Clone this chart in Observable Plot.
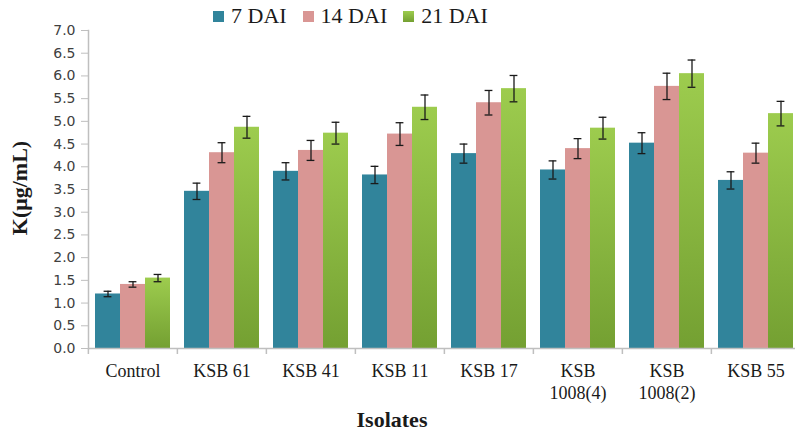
<!DOCTYPE html>
<html>
<head>
<meta charset="utf-8">
<script src="https://cdn.jsdelivr.net/npm/d3@7"></script>
<script src="https://cdn.jsdelivr.net/npm/@observablehq/plot@0.6"></script>
<style>
  body { margin: 0; background: #fff; }
  #wrap { position: relative; width: 795px; height: 432px; overflow: hidden; }
  #chart { position: absolute; left: 0; top: 0; }
  #legend { position: absolute; left: 213px; top: 3px; display: flex; align-items: center;
            font-family: "Liberation Serif", serif; font-size: 22px; color: #1a1a1a; white-space: nowrap; }
  #legend .item { display: flex; align-items: center; margin-right: 16px; }
  #legend .sw { width: 11px; height: 11px; margin-right: 7px; }
  .title { position: absolute; font-family: "Liberation Serif", serif; font-weight: bold; font-size: 22px; color: #1a1a1a; white-space: nowrap; }
  #ytitle { left: 20px; top: 188px; transform: translate(-50%, -50%) rotate(-90deg); }
  #xtitle { left: 392px; top: 420px; transform: translate(-50%, -50%); }
</style>
</head>
<body>
<svg width="0" height="0" style="position:absolute">
  <defs>
    <linearGradient id="g21" x1="0" y1="0" x2="0" y2="1">
      <stop offset="0" stop-color="#9DCC4E"/>
      <stop offset="1" stop-color="#74A032"/>
    </linearGradient>
  </defs>
</svg>
<div id="wrap">
  <div id="chart"></div>
  <div id="legend"></div>
  <div id="ytitle" class="title">K(μg/mL)</div>
  <div id="xtitle" class="title">Isolates</div>
</div>
<script>
const categories = ["Control", "KSB 61", "KSB 41", "KSB 11", "KSB 17", "KSB\n1008(4)", "KSB\n1008(2)", "KSB 55"];
const series = ["7 DAI", "14 DAI", "21 DAI"];
const dai7  = [1.20, 3.46, 3.90, 3.82, 4.29, 3.93, 4.52, 3.70];
const dai14 = [1.41, 4.31, 4.36, 4.72, 5.41, 4.40, 5.77, 4.30];
const dai21 = [1.55, 4.87, 4.74, 5.31, 5.72, 4.85, 6.05, 5.17];
const err7  = [0.06, 0.18, 0.19, 0.19, 0.21, 0.20, 0.23, 0.19];
const err14 = [0.06, 0.22, 0.22, 0.25, 0.27, 0.22, 0.29, 0.22];
const err21 = [0.08, 0.24, 0.24, 0.27, 0.29, 0.24, 0.30, 0.27];
const yTicks = [0, 0.5, 1, 1.5, 2, 2.5, 3, 3.5, 4, 4.5, 5, 5.5, 6, 6.5, 7];
const colors = ["#31849B", "#D99694", "url(#g21)"];
const legendColors = ["#31849B", "#D99694", "linear-gradient(#9DCC4E, #74A032)"];

const values = [dai7, dai14, dai21];
const errors = [err7, err14, err21];
const table = [];
categories.forEach((c, i) => series.forEach((s, j) => {
  table.push({cat: c, series: s, value: values[j][i], err: errors[j][i]});
}));

const W = 795, mL = 87, mR = -6;
const step = (W - mL - mR) / categories.length;

const chart = Plot.plot({
  width: W, height: 432,
  marginLeft: mL, marginRight: mR, marginTop: 30, marginBottom: 84,
  fx: {domain: categories, paddingInner: 0, paddingOuter: 0, label: null},
  x: {domain: series, paddingInner: 0, paddingOuter: 0.265, axis: null},
  y: {domain: [0, 7], axis: null},
  color: {domain: series, range: colors},
  marks: [
    Plot.barY(table, {fx: "cat", x: "series", y: "value", fill: "series"}),
    Plot.ruleY([0], {stroke: "#bfbfbf", strokeWidth: 1.5}),
    Plot.frame({anchor: "left", stroke: "#bfbfbf", strokeWidth: 1.5, facetAnchor: "left"}),
    Plot.ruleX(table, {fx: "cat", x: "series", y1: d => d.value - d.err, y2: d => d.value + d.err, stroke: "#1a1a1a", strokeWidth: 1.3}),
    Plot.tickY(table, {fx: "cat", x: "series", y: d => d.value + d.err, stroke: "#1a1a1a", strokeWidth: 1.3, insetLeft: 8.6, insetRight: 8.6}),
    Plot.tickY(table, {fx: "cat", x: "series", y: d => d.value - d.err, stroke: "#1a1a1a", strokeWidth: 1.3, insetLeft: 8.6, insetRight: 8.6}),
    Plot.axisY({ticks: yTicks, tickFormat: d => d.toFixed(1), tickSize: 7, tickPadding: 6,
                color: "#404040", stroke: "#bfbfbf", fontSize: 14, fontFamily: "DejaVu Sans", label: null}),
    Plot.axisFx({anchor: "bottom", tickSize: 0, tickPadding: 13, fontSize: 18, fontFamily: "Liberation Serif",
                 color: "#1a1a1a", lineHeight: 1.22, label: null}),
    Plot.axisFx({anchor: "bottom", tickSize: 6, fill: "none", stroke: "#bfbfbf", strokeWidth: 1.5, dx: -step / 2, label: null})
  ]
});
document.getElementById("chart").appendChild(chart);

const legend = document.getElementById("legend");
series.forEach((s, j) => {
  const item = document.createElement("div");
  item.className = "item";
  const sw = document.createElement("div");
  sw.className = "sw";
  sw.style.background = legendColors[j];
  const t = document.createElement("span");
  t.textContent = s;
  item.appendChild(sw); item.appendChild(t);
  legend.appendChild(item);
});
</script>
</body>
</html>
